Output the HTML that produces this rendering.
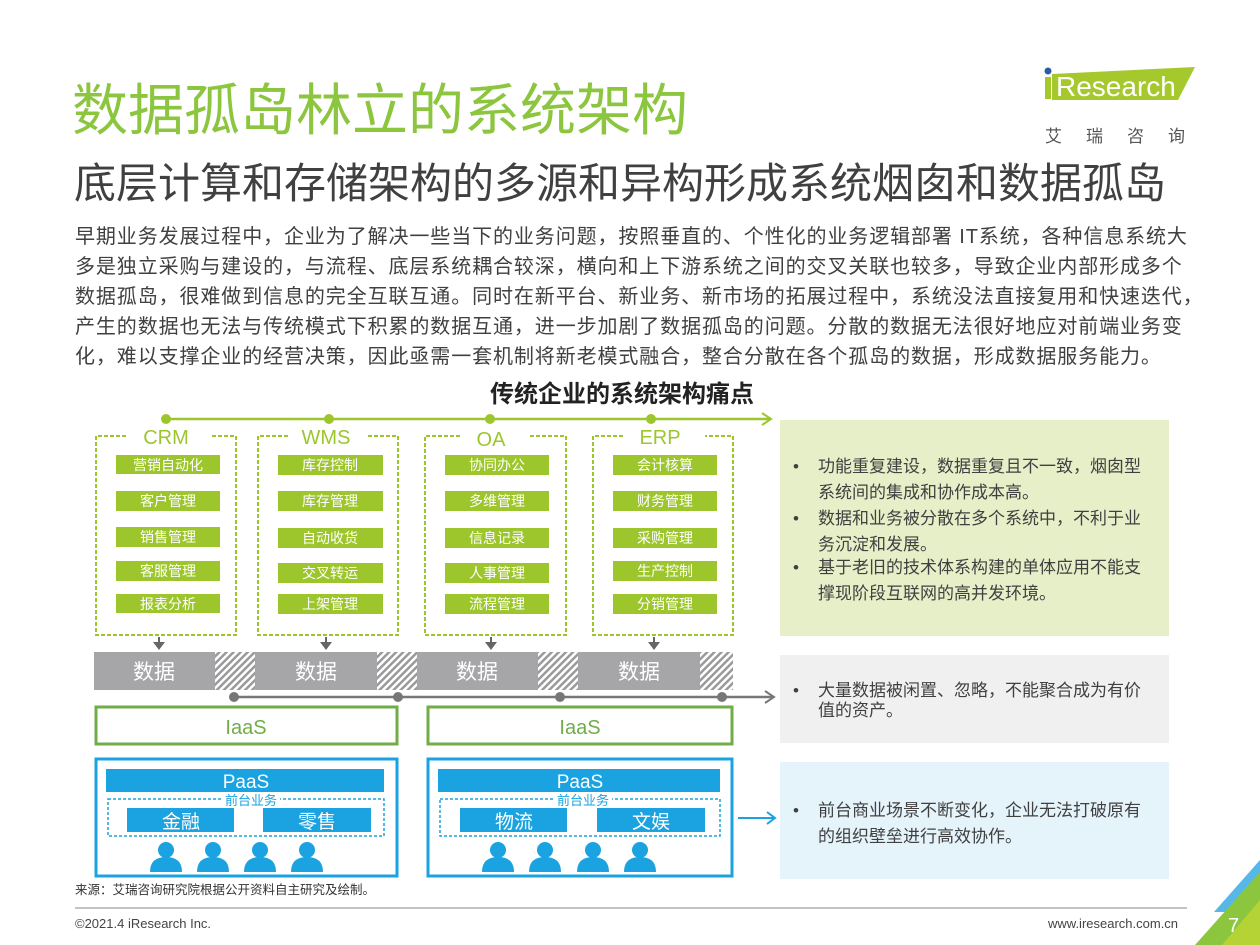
<!DOCTYPE html>
<html><head><meta charset="utf-8"><style>
body{margin:0;width:1260px;height:945px;overflow:hidden;background:#fff;position:relative;font-family:"Liberation Sans","Noto Sans CJK SC",sans-serif}
.a{position:absolute;white-space:nowrap}
.b div{height:30px}
</style></head><body>
<div class="a" style="left:72px;top:66px;font-size:56px;color:#8cc63f;letter-spacing:0px">数据孤岛林立的系统架构</div>
<div class="a" style="left:74px;top:150px;font-size:42px;color:#404040">底层计算和存储架构的多源和异构形成系统烟囱和数据孤岛</div>
<div class="a b" style="left:75px;top:222px;font-size:20px;color:#404040;line-height:30px;letter-spacing:0.9px">
<div>早期业务发展过程中，企业为了解决一些当下的业务问题，按照垂直的、个性化的业务逻辑部署 IT系统，各种信息系统大</div>
<div>多是独立采购与建设的，与流程、底层系统耦合较深，横向和上下游系统之间的交叉关联也较多，导致企业内部形成多个</div>
<div>数据孤岛，很难做到信息的完全互联互通。同时在新平台、新业务、新市场的拓展过程中，系统没法直接复用和快速迭代，</div>
<div>产生的数据也无法与传统模式下积累的数据互通，进一步加剧了数据孤岛的问题。分散的数据无法很好地应对前端业务变</div>
<div>化，难以支撑企业的经营决策，因此亟需一套机制将新老模式融合，整合分散在各个孤岛的数据，形成数据服务能力。</div>
</div>
<div class="a" style="left:490px;top:374px;font-size:24px;font-weight:bold;color:#222">传统企业的系统架构痛点</div>
<svg class="a" style="left:1040px;top:62px" width="160" height="40"><polygon points="12,12 155,5 138,38 12,38" fill="#a5c82d"/><circle cx="8" cy="9" r="3.5" fill="#2a5caa"/><rect x="5" y="15" width="6" height="22" fill="#a5c82d"/><text x="16" y="34" font-size="28" fill="#fff" font-family="Liberation Sans">Research</text></svg>
<div class="a" style="left:1045px;top:122px;font-size:17px;color:#555;letter-spacing:24px">艾瑞咨询</div>
<svg class="a" style="left:0;top:0" width="1260" height="945">
<defs><pattern id="h" width="5" height="5" patternUnits="userSpaceOnUse" patternTransform="rotate(45)"><rect width="5" height="5" fill="#fff"/><rect width="2.5" height="5" fill="#9a9a9a"/></pattern>
<g id="p"><circle cx="0" cy="-8" r="8" fill="#1aa3e0"/><path d="M-16,14 Q-16,-1 0,-1 Q16,-1 16,14Z" fill="#1aa3e0"/></g></defs>
<line x1="166" y1="419" x2="770" y2="419" stroke="#9dc62d" stroke-width="2.5"/>
<polyline points="762,413 771,419 762,425" fill="none" stroke="#9dc62d" stroke-width="2"/>
<g fill="#9dc62d"><circle cx="166" cy="419" r="5"/><circle cx="329" cy="419" r="5"/><circle cx="490" cy="419" r="5"/><circle cx="651" cy="419" r="5"/></g>
<g fill="none" stroke="#9dc62d" stroke-width="2" stroke-dasharray="4,2">
<path d="M126,436 H96 V635 H236 V436 H212"/><path d="M288,436 H258 V635 H398 V436 H368"/><path d="M460,436 H425 V635 H566 V436 H530"/><path d="M623,436 H593 V635 H733 V436 H705"/></g>
<g font-size="20" fill="#9dc62d" text-anchor="middle"><text x="166" y="444">CRM</text><text x="326" y="444">WMS</text><text x="491" y="446">OA</text><text x="660" y="444">ERP</text></g>
<g fill="#9dc62d">
<rect x="116" y="455" width="104" height="19"/><rect x="116" y="491" width="104" height="20"/><rect x="116" y="527" width="104" height="20"/><rect x="116" y="561" width="104" height="20"/><rect x="116" y="594" width="104" height="19"/>
<rect x="278" y="455" width="105" height="20"/><rect x="278" y="491" width="105" height="20"/><rect x="278" y="528" width="105" height="20"/><rect x="278" y="563" width="105" height="20"/><rect x="278" y="594" width="105" height="20"/>
<rect x="445" y="455" width="104" height="20"/><rect x="445" y="491" width="104" height="20"/><rect x="445" y="528" width="104" height="20"/><rect x="445" y="563" width="104" height="20"/><rect x="445" y="594" width="104" height="20"/>
<rect x="613" y="455" width="104" height="20"/><rect x="613" y="491" width="104" height="20"/><rect x="613" y="528" width="104" height="20"/><rect x="613" y="561" width="104" height="20"/><rect x="613" y="594" width="104" height="20"/></g>
<g font-size="14" fill="#fff" text-anchor="middle">
<text x="168" y="470">营销自动化</text><text x="168" y="506">客户管理</text><text x="168" y="542">销售管理</text><text x="168" y="576">客服管理</text><text x="168" y="609">报表分析</text>
<text x="330" y="470">库存控制</text><text x="330" y="506">库存管理</text><text x="330" y="543">自动收货</text><text x="330" y="578">交叉转运</text><text x="330" y="609">上架管理</text>
<text x="497" y="470">协同办公</text><text x="497" y="506">多维管理</text><text x="497" y="543">信息记录</text><text x="497" y="578">人事管理</text><text x="497" y="609">流程管理</text>
<text x="665" y="470">会计核算</text><text x="665" y="506">财务管理</text><text x="665" y="543">采购管理</text><text x="665" y="576">生产控制</text><text x="665" y="609">分销管理</text></g>
<g fill="#666"><rect x="158" y="637" width="2" height="6"/><polygon points="153,642 165,642 159,650"/><rect x="325" y="637" width="2" height="6"/><polygon points="320,642 332,642 326,650"/><rect x="490" y="637" width="2" height="6"/><polygon points="485,642 497,642 491,650"/><rect x="653" y="637" width="2" height="6"/><polygon points="648,642 660,642 654,650"/></g>
<g fill="#a6a6a8"><rect x="94" y="652" width="121" height="38"/><rect x="255" y="652" width="122" height="38"/><rect x="417" y="652" width="121" height="38"/><rect x="578" y="652" width="122" height="38"/></g>
<g fill="url(#h)"><rect x="215" y="652" width="40" height="38"/><rect x="377" y="652" width="40" height="38"/><rect x="538" y="652" width="40" height="38"/><rect x="700" y="652" width="33" height="38"/></g>
<g font-size="21" fill="#fff" text-anchor="middle"><text x="154" y="679">数据</text><text x="316" y="679">数据</text><text x="477" y="679">数据</text><text x="639" y="679">数据</text></g>
<line x1="234" y1="697" x2="774" y2="697" stroke="#777" stroke-width="2.5"/>
<polyline points="765,691 774,697 765,703" fill="none" stroke="#777" stroke-width="2"/>
<g fill="#777"><circle cx="234" cy="697" r="5"/><circle cx="398" cy="697" r="5"/><circle cx="560" cy="697" r="5"/><circle cx="722" cy="697" r="5"/></g>
<g fill="none" stroke="#70ad47" stroke-width="3"><rect x="96" y="707" width="301" height="37"/><rect x="428" y="707" width="304" height="37"/></g>
<g font-size="20" fill="#70ad47" text-anchor="middle"><text x="246" y="734">IaaS</text><text x="580" y="734">IaaS</text></g>
<g fill="none" stroke="#1aa3e0" stroke-width="3"><rect x="96" y="759" width="301" height="117"/><rect x="428" y="759" width="304" height="117"/></g>
<g fill="#1aa3e0"><rect x="106" y="769" width="278" height="23"/><rect x="438" y="769" width="282" height="23"/>
<rect x="127" y="808" width="107" height="24"/><rect x="263" y="808" width="108" height="24"/><rect x="460" y="808" width="107" height="24"/><rect x="597" y="808" width="108" height="24"/></g>
<g fill="none" stroke="#1aa3e0" stroke-width="1.5" stroke-dasharray="3,2"><rect x="108" y="799" width="276" height="37"/><rect x="440" y="799" width="280" height="37"/></g>
<rect x="222" y="792" width="58" height="14" fill="#fff"/><rect x="554" y="792" width="58" height="14" fill="#fff"/>
<g font-size="13" fill="#1aa3e0" text-anchor="middle"><text x="251" y="805">前台业务</text><text x="583" y="805">前台业务</text></g>
<g font-size="19" fill="#fff" text-anchor="middle"><text x="246" y="788">PaaS</text><text x="580" y="788">PaaS</text>
<text x="181" y="828">金融</text><text x="317" y="828">零售</text><text x="514" y="828">物流</text><text x="651" y="828">文娱</text></g>
<use href="#p" x="166" y="858"/><use href="#p" x="213" y="858"/><use href="#p" x="260" y="858"/><use href="#p" x="307" y="858"/>
<use href="#p" x="498" y="858"/><use href="#p" x="545" y="858"/><use href="#p" x="593" y="858"/><use href="#p" x="640" y="858"/>
<line x1="738" y1="818" x2="775" y2="818" stroke="#1aa3e0" stroke-width="2"/><polyline points="767,812 775,818 767,824" fill="none" stroke="#1aa3e0" stroke-width="2"/>
<rect x="780" y="420" width="389" height="216" fill="#e6efc8"/>
<rect x="780" y="655" width="389" height="88" fill="#f0f0f0"/>
<rect x="780" y="762" width="389" height="117" fill="#e5f3fb"/>
<g font-size="17" fill="#404040"><text x="793" y="472">•</text><text x="818" y="472">功能重复建设，数据重复且不一致，烟囱型</text><text x="818" y="498">系统间的集成和协作成本高。</text>
<text x="793" y="524">•</text><text x="818" y="524">数据和业务被分散在多个系统中，不利于业</text><text x="818" y="550">务沉淀和发展。</text>
<text x="793" y="573">•</text><text x="818" y="573">基于老旧的技术体系构建的单体应用不能支</text><text x="818" y="599">撑现阶段互联网的高并发环境。</text>
<text x="793" y="696">•</text><text x="818" y="696">大量数据被闲置、忽略，不能聚合成为有价</text><text x="818" y="716">值的资产。</text>
<text x="793" y="816">•</text><text x="818" y="816">前台商业场景不断变化，企业无法打破原有</text><text x="818" y="842">的组织壁垒进行高效协作。</text></g>
<line x1="75" y1="908" x2="1187" y2="908" stroke="#888" stroke-width="1"/>
<polygon points="1260,860 1214,912 1240,912 1260,888" fill="#55b8e8"/>
<polygon points="1260,872 1195,945 1260,945" fill="#8cc63f"/>
<polygon points="1260,900 1222,945 1260,945" fill="#b5d334"/>
<text x="1228" y="932" font-size="20" fill="#fff">7</text>
</svg>
<div class="a" style="left:75px;top:879px;font-size:12.5px;color:#333">来源：艾瑞咨询研究院根据公开资料自主研究及绘制。</div>
<div class="a" style="left:75px;top:916px;font-size:13px;color:#444">©2021.4 iResearch Inc.</div>
<div class="a" style="left:1048px;top:916px;font-size:13px;color:#444">www.iresearch.com.cn</div>
</body></html>
